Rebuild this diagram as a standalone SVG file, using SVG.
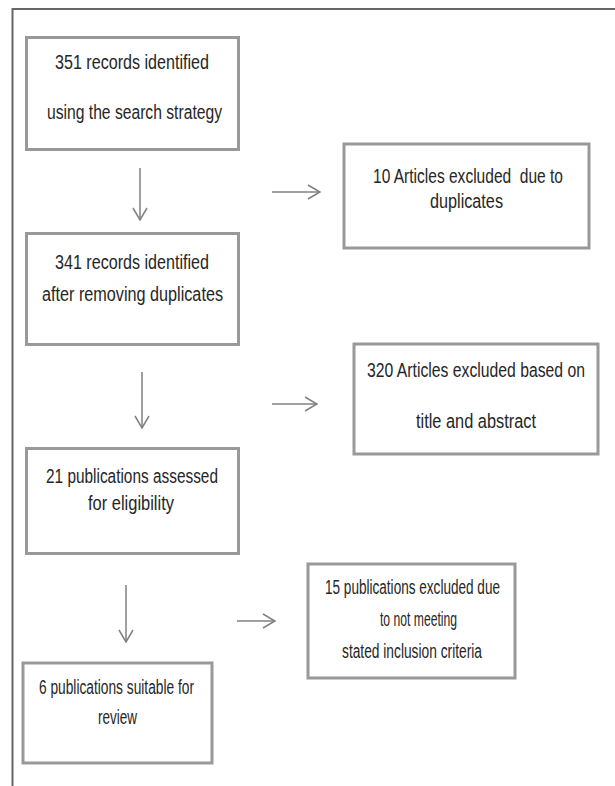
<svg xmlns="http://www.w3.org/2000/svg" width="615" height="786" viewBox="0 0 615 786">
<style>
.box{fill:#ffffff;stroke:#999999;stroke-width:3}
.frame{fill:none;stroke:#666666;stroke-width:2}
.arr{fill:none;stroke:#808080;stroke-width:1.5}
text{font-family:"Liberation Sans",Arial,sans-serif;font-size:20px;fill:#262626}
</style>
<defs>
<marker id="chev" viewBox="0 0 14 16" refX="13" refY="8" markerWidth="14" markerHeight="16" markerUnits="userSpaceOnUse" orient="auto">
<path d="M1,1 L13,8 L1,15" fill="none" stroke="#808080" stroke-width="1.5"/>
</marker>
</defs>
<rect width="615" height="786" fill="#ffffff"/>
<path class="frame" d="M12.5,786 L12.5,9 L615,9"/>
<g id="n1">
<rect class="box" x="26.5" y="37.5" width="212" height="112"/>
<g transform="scale(0.8,1)">
<text x="68.75" y="69" textLength="192.5" lengthAdjust="spacingAndGlyphs">351 records identified</text>
<text x="58.75" y="119" textLength="218.75" lengthAdjust="spacingAndGlyphs">using the search strategy</text>
</g>
</g>
<g id="n2">
<rect class="box" x="26.5" y="233.5" width="212" height="111"/>
<g transform="scale(0.8,1)">
<text x="68.75" y="269" textLength="192.5" lengthAdjust="spacingAndGlyphs">341 records identified</text>
<text x="52.5" y="301" textLength="226.25" lengthAdjust="spacingAndGlyphs">after removing duplicates</text>
</g>
</g>
<g id="n3">
<rect class="box" x="26.5" y="448.5" width="212" height="105"/>
<g transform="scale(0.8,1)">
<text x="57.5" y="483" textLength="215" lengthAdjust="spacingAndGlyphs">21 publications assessed</text>
<text x="110" y="510" textLength="107.5" lengthAdjust="spacingAndGlyphs">for eligibility</text>
</g>
</g>
<g id="n4">
<rect class="box" x="23" y="663" width="189" height="100"/>
<g transform="scale(0.8,1)">
<text x="48.75" y="694" textLength="193.75" lengthAdjust="spacingAndGlyphs">6 publications suitable for</text>
<text x="122.5" y="724" textLength="48.75" lengthAdjust="spacingAndGlyphs">review</text>
</g>
</g>
<g id="r1">
<rect class="box" x="344" y="144" width="245" height="104"/>
<g transform="scale(0.8,1)">
<text x="466.25" y="183" textLength="237.5" lengthAdjust="spacingAndGlyphs" xml:space="preserve">10 Articles excluded  due to</text>
<text x="537.5" y="208" textLength="91.25" lengthAdjust="spacingAndGlyphs">duplicates</text>
</g>
</g>
<g id="r2">
<rect class="box" x="354" y="344" width="244" height="110"/>
<g transform="scale(0.8,1)">
<text x="458.75" y="377" textLength="272.5" lengthAdjust="spacingAndGlyphs">320 Articles excluded based on</text>
<text x="520" y="428" textLength="150" lengthAdjust="spacingAndGlyphs">title and abstract</text>
</g>
</g>
<g id="r3">
<rect class="box" x="308" y="564" width="207" height="114"/>
<g transform="scale(0.8,1)">
<text x="406.25" y="594" textLength="218.75" lengthAdjust="spacingAndGlyphs">15 publications excluded due</text>
<text x="475" y="626" textLength="96.25" lengthAdjust="spacingAndGlyphs">to not meeting</text>
<text x="427.5" y="658" textLength="175" lengthAdjust="spacingAndGlyphs">stated inclusion criteria</text>
</g>
</g>
<g id="connectors">
<line class="arr" x1="140" y1="168" x2="140" y2="220" marker-end="url(#chev)"/>
<line class="arr" x1="142" y1="372" x2="142" y2="428" marker-end="url(#chev)"/>
<line class="arr" x1="126" y1="585" x2="126" y2="642" marker-end="url(#chev)"/>
<line class="arr" x1="272" y1="192" x2="320" y2="192" marker-end="url(#chev)"/>
<line class="arr" x1="272" y1="404" x2="317" y2="404" marker-end="url(#chev)"/>
<line class="arr" x1="237" y1="621" x2="275" y2="621" marker-end="url(#chev)"/>
</g>
</svg>
